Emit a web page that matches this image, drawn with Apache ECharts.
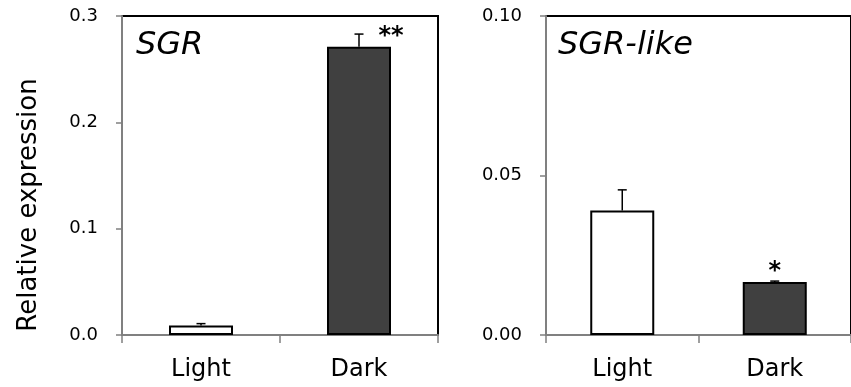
<!DOCTYPE html>
<html><head><meta charset="utf-8">
<script src="https://cdn.jsdelivr.net/npm/echarts@6/dist/echarts.min.js"></script>
<style>html,body{margin:0;padding:0;background:#fff}#c{width:851px;height:387px}</style>
</head><body><div id="c"></div>
<script>
const categories = ['Light', 'Dark'];
const sgrMean = [0.009, 0.271];
const sgrErr = [0.0017, 0.012];
const sgrSig = ['', '**'];
const likeMean = [0.039, 0.0166];
const likeErr = [0.0065, 0.0003];
const likeSig = ['', '*'];
const sgrTicks = [0, 0.3, 0.1];      // min, max, interval
const likeTicks = [0, 0.1, 0.05];
const barColors = ['#ffffff', '#404040'];
const yTitle = 'Relative expression';
const panelTitles = ['SGR', 'SGR-like'];

const FONT = 'DejaVu Sans';
const chart = echarts.init(document.getElementById('c'), null, {renderer: 'canvas'});

function yAxis(idx, t, digits) {
  return {
    type: 'value', gridIndex: idx, min: t[0], max: t[1], interval: t[2],
    axisLine: {show: true, lineStyle: {color: '#808080', width: 2}},
    axisTick: {show: true, length: 6, lineStyle: {color: '#808080', width: 1.5}},
    axisLabel: {margin: 24, color: '#000', fontFamily: FONT, fontSize: 18,
      formatter: v => v.toFixed(digits)},
    splitLine: {show: false}
  };
}
function xAxis(idx) {
  return {
    type: 'category', gridIndex: idx, data: categories,
    axisLine: {show: true, lineStyle: {color: '#808080', width: 2}},
    axisTick: {show: true, length: 8, alignWithLabel: false, lineStyle: {color: '#808080', width: 1.5}},
    axisLabel: {margin: 23, color: '#000', fontFamily: FONT, fontSize: 24}
  };
}
function bars(idx, mean) {
  return {
    type: 'bar', xAxisIndex: idx, yAxisIndex: idx, barWidth: 64,
    data: mean.map((v, i) => ({value: v, itemStyle: {color: barColors[i]}})),
    itemStyle: {borderColor: '#000', borderWidth: 2},
    z: 2
  };
}
function errs(idx, mean, err, sig, sigOff) {
  return {
    type: 'custom', xAxisIndex: idx, yAxisIndex: idx, z: 5,
    data: mean.map((v, i) => [i, v, v + err[i]]),
    renderItem: function (params, api) {
      const i = api.value(0);
      const lo = api.coord([i, api.value(1)]);
      const hi = api.coord([i, api.value(2)]);
      const children = [
        {type: 'line', shape: {x1: lo[0], y1: lo[1], x2: hi[0], y2: hi[1]}, style: {stroke: '#000', lineWidth: 1.5}},
        {type: 'line', shape: {x1: hi[0] - 4.5, y1: hi[1], x2: hi[0] + 4.5, y2: hi[1]}, style: {stroke: '#000', lineWidth: 1.5}}
      ];
      const s = sig[params.dataIndex];
      if (s) {
        const o = sigOff[params.dataIndex];
        children.push({type: 'text', x: hi[0] + o[0], y: hi[1] + o[1],
          style: {text: s, font: 'bold 24px "' + FONT + '"', fill: '#000', align: 'center', verticalAlign: 'middle'}});
      }
      return {type: 'group', children: children};
    }
  };
}

chart.setOption({
  animation: false,
  backgroundColor: '#fff',
  grid: [
    {left: 122, top: 16, right: 413, bottom: 52, show: true, borderColor: '#000', borderWidth: 2, backgroundColor: 'transparent'},
    {left: 546, top: 16, right: -9, bottom: 52, show: true, borderColor: '#000', borderWidth: 2, backgroundColor: 'transparent'}
  ],
  xAxis: [xAxis(0), xAxis(1)],
  yAxis: [yAxis(0, sgrTicks, 1), yAxis(1, likeTicks, 2)],
  series: [
    bars(0, sgrMean), errs(0, sgrMean, sgrErr, sgrSig, [[0, 0], [32, 3]]),
    bars(1, likeMean), errs(1, likeMean, likeErr, likeSig, [[0, 0], [0, -9]])
  ],
  graphic: [
    {type: 'text', x: 29, y: 205, rotation: Math.PI / 2,
      style: {text: yTitle, font: '26px "' + FONT + '"', fill: '#000', align: 'center', verticalAlign: 'middle'}},
    {type: 'text', x: 136, y: 46,
      style: {text: panelTitles[0], font: 'italic 32px "' + FONT + '"', fill: '#000', align: 'left', verticalAlign: 'middle'}},
    {type: 'text', x: 558, y: 46,
      style: {text: panelTitles[1], font: 'italic 32px "' + FONT + '"', fill: '#000', align: 'left', verticalAlign: 'middle'}}
  ]
});
</script></body></html>
